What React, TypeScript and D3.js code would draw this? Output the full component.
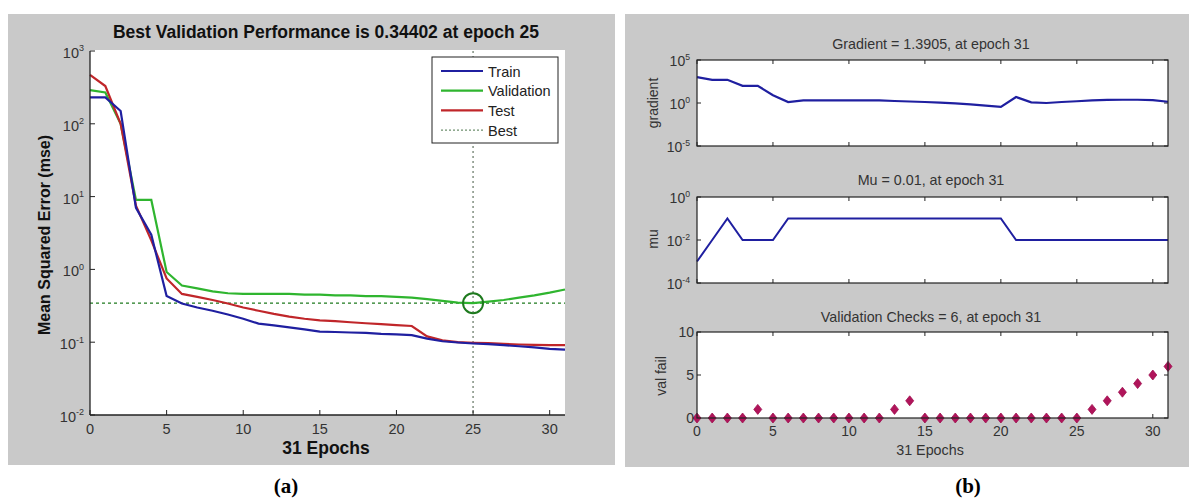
import React from "react";
import * as d3 from "d3";

const epochs = d3.range(0, 32);

const trainMSE = [230, 230, 150, 7, 3, 0.43, 0.34, 0.3, 0.27, 0.24, 0.21, 0.18, 0.17, 0.16, 0.15, 0.14, 0.138, 0.136, 0.134, 0.13, 0.128, 0.125, 0.112, 0.103, 0.099, 0.096, 0.094, 0.091, 0.088, 0.085, 0.081, 0.079];
const validationMSE = [290, 270, 100, 9, 9, 0.92, 0.6, 0.55, 0.5, 0.47, 0.46, 0.46, 0.46, 0.46, 0.45, 0.45, 0.44, 0.44, 0.43, 0.43, 0.42, 0.41, 0.39, 0.37, 0.35, 0.344, 0.36, 0.38, 0.41, 0.44, 0.48, 0.53];
const testMSE = [470, 330, 100, 7.5, 2.5, 0.75, 0.46, 0.42, 0.38, 0.34, 0.3, 0.27, 0.245, 0.225, 0.21, 0.2, 0.195, 0.188, 0.182, 0.177, 0.172, 0.167, 0.12, 0.106, 0.1, 0.098, 0.097, 0.095, 0.093, 0.092, 0.091, 0.091];
const bestEpoch = 25;
const bestPerf = 0.34402;

const gradient = [1000, 500, 500, 100, 100, 8, 1.3, 2, 2, 2, 2, 2, 2, 1.7, 1.5, 1.3, 1.1, 0.9, 0.7, 0.5, 0.35, 5, 1.2, 1.0, 1.3, 1.6, 2.0, 2.3, 2.4, 2.4, 2.2, 1.3905];
const mu = [0.001, 0.01, 0.1, 0.01, 0.01, 0.01, 0.1, 0.1, 0.1, 0.1, 0.1, 0.1, 0.1, 0.1, 0.1, 0.1, 0.1, 0.1, 0.1, 0.1, 0.1, 0.01, 0.01, 0.01, 0.01, 0.01, 0.01, 0.01, 0.01, 0.01, 0.01, 0.01];
const valFail = [0, 0, 0, 0, 1, 0, 0, 0, 0, 0, 0, 0, 0, 1, 2, 0, 0, 0, 0, 0, 0, 0, 0, 0, 0, 0, 1, 2, 3, 4, 5, 6];

const xTicks = [0, 5, 10, 15, 20, 25, 30];
const mseTickExp = [-2, -1, 0, 1, 2, 3];
const gradTickExp = [-5, 0, 5];
const muTickExp = [-4, -2, 0];
const valTicks = [0, 5, 10];

const legendItems = ["Train", "Validation", "Test", "Best"];

const BLUE = "#1f1fa0";
const GREEN = "#2fb52f";
const RED = "#c0262a";
const DKGREEN = "#1e7a1e";
const GRAY = "#c9c9c9";
const SANS = "'Liberation Sans', Arial, sans-serif";
const SERIF = "'Liberation Serif', 'Times New Roman', serif";

function Pow({ x, y, exp, size, anchor = "end", fill = "#333" }: any) {
  return (
    <text x={x} y={y} fontSize={size} fontFamily={SANS} textAnchor={anchor} fill={fill}>
      10
      <tspan fontSize={size * 0.62} dy={-size * 0.45}>{exp}</tspan>
    </text>
  );
}

export default function App() {
  const xL = d3.scaleLinear().domain([0, 31]).range([90, 565]);
  const yL = d3.scaleLog().domain([0.01, 1000]).range([415, 51]);
  const lineL = (vals: number[]) =>
    d3.line<number>().x((_, i) => xL(epochs[i])).y((v) => yL(v))(vals) || "";

  const xR = d3.scaleLinear().domain([0, 31]).range([697, 1168]);
  const yG = d3.scaleLog().domain([1e-5, 1e5]).range([146, 60]);
  const yM = d3.scaleLog().domain([1e-4, 1]).range([283, 197]);
  const yV = d3.scaleLinear().domain([0, 10]).range([418, 332]);

  const lineG = d3.line<number>().x((_, i) => xR(epochs[i])).y((v) => yG(v))(gradient) || "";
  const lineM = d3.line<number>().x((_, i) => xR(epochs[i])).y((v) => yM(v))(mu) || "";

  const [l0, l1] = xL.range();
  const [b0, t0] = yL.range();

  const subBox = (top: number, bottom: number, yTicks: number[], key: string) => (
    <g key={key}>
      <rect x={697} y={top} width={471} height={bottom - top} fill="#fff" />
      {xTicks.map((t) => (
        <g key={t}>
          <line x1={xR(t)} x2={xR(t)} y1={bottom} y2={bottom - 4} stroke="#222" />
          <line x1={xR(t)} x2={xR(t)} y1={top} y2={top + 4} stroke="#222" />
        </g>
      ))}
      {yTicks.map((y, i) => (
        <g key={i}>
          <line x1={697} x2={701} y1={y} y2={y} stroke="#222" />
          <line x1={1168} x2={1164} y1={y} y2={y} stroke="#222" />
        </g>
      ))}
    </g>
  );

  const diamond = (cx: number, cy: number) =>
    `M${cx},${cy - 5} L${cx + 4},${cy} L${cx},${cy + 5} L${cx - 4},${cy} Z`;

  return (
    <svg width={1189} height={500} style={{ position: "absolute", left: 0, top: 0, background: "#fff" }}>
      <rect x={8} y={14} width={607} height={451} fill={GRAY} />
      <rect x={625} y={14} width={564} height={453} fill={GRAY} />

      {/* ===== Left panel ===== */}
      <rect x={l0} y={t0 - 1} width={l1 - l0} height={b0 - t0 + 1} fill="#fff" />
      <text x={326} y={38} textAnchor="middle" fontFamily={SANS} fontWeight="bold" fontSize={17.5} fill="#111">
        Best Validation Performance is {bestPerf} at epoch {bestEpoch}
      </text>

      <line x1={xL(bestEpoch)} x2={xL(bestEpoch)} y1={t0} y2={b0} stroke="#6e7f6e" strokeWidth={1.3} strokeDasharray="2,3" />
      <line x1={l0} x2={l1} y1={yL(bestPerf)} y2={yL(bestPerf)} stroke={DKGREEN} strokeWidth={1.3} strokeDasharray="3,3" />

      <path d={lineL(validationMSE)} fill="none" stroke={GREEN} strokeWidth={2.2} />
      <path d={lineL(testMSE)} fill="none" stroke={RED} strokeWidth={2.2} />
      <path d={lineL(trainMSE)} fill="none" stroke={BLUE} strokeWidth={2.2} />
      <circle cx={xL(bestEpoch)} cy={yL(bestPerf)} r={10} fill="none" stroke={DKGREEN} strokeWidth={2} />

      <line x1={l0} x2={l1} y1={b0} y2={b0} stroke="#222" strokeWidth={1.3} />
      <line x1={l0} x2={l0} y1={t0} y2={b0} stroke="#222" strokeWidth={1.3} />
      {xTicks.map((t) => (
        <g key={t}>
          <line x1={xL(t)} x2={xL(t)} y1={b0} y2={b0 - 5} stroke="#222" />
          <text x={xL(t)} y={434} textAnchor="middle" fontFamily={SANS} fontSize={14.5} fill="#333">{t}</text>
        </g>
      ))}
      {mseTickExp.map((e) => (
        <g key={e}>
          <line x1={l0} x2={l0 + 5} y1={yL(Math.pow(10, e))} y2={yL(Math.pow(10, e))} stroke="#222" />
          <Pow x={84} y={yL(Math.pow(10, e)) + 7} exp={e} size={14.5} />
        </g>
      ))}
      <text x={326} y={454} textAnchor="middle" fontFamily={SANS} fontWeight="bold" fontSize={17.5} fill="#111">31 Epochs</text>
      <text transform={`translate(50,235) rotate(-90)`} textAnchor="middle" fontFamily={SANS} fontWeight="bold" fontSize={16} fill="#111">
        Mean Squared Error  (mse)
      </text>

      <rect x={432} y={57} width={126} height={86} fill="#fff" stroke="#222" strokeWidth={1} />
      {legendItems.map((name, i) => {
        const y = 71 + i * 19.7;
        const color = [BLUE, GREEN, RED, "#6e8f6e"][i];
        return (
          <g key={name}>
            <line x1={441} x2={483} y1={y} y2={y} stroke={color} strokeWidth={i === 3 ? 1.3 : 2.2} strokeDasharray={i === 3 ? "2,2" : undefined} />
            <text x={488} y={y + 5.5} fontFamily={SANS} fontSize={14.5} fill="#222">{name}</text>
          </g>
        );
      })}

      {/* ===== Right panel ===== */}
      {subBox(60, 146, gradTickExp.map((e) => yG(Math.pow(10, e))), "g")}
      {subBox(197, 283, muTickExp.map((e) => yM(Math.pow(10, e))), "m")}
      {subBox(332, 418, valTicks.map((v) => yV(v)), "v")}

      <path d={lineG} fill="none" stroke={BLUE} strokeWidth={2.2} />
      <path d={lineM} fill="none" stroke={BLUE} strokeWidth={2} />
      {valFail.map((v, i) => (
        <path key={i} d={diamond(xR(epochs[i]), yV(v))} fill="#b0145a" stroke="#a01050" strokeWidth={0.8} />
      ))}

      <rect x={697} y={60} width={471} height={86} fill="none" stroke="#222" strokeWidth={1.2} />
      <rect x={697} y={197} width={471} height={86} fill="none" stroke="#222" strokeWidth={1.2} />
      <rect x={697} y={332} width={471} height={86} fill="none" stroke="#222" strokeWidth={1.2} />

      <text x={931} y={49} textAnchor="middle" fontFamily={SANS} fontSize={14.3} fill="#333">Gradient = 1.3905, at epoch 31</text>
      <text x={931} y={185} textAnchor="middle" fontFamily={SANS} fontSize={14.3} fill="#333">Mu = 0.01, at epoch 31</text>
      <text x={931} y={322} textAnchor="middle" fontFamily={SANS} fontSize={14.3} fill="#333">Validation Checks = 6, at epoch 31</text>

      {gradTickExp.map((e) => (
        <Pow key={e} x={690} y={yG(Math.pow(10, e)) + 6} exp={e} size={14} />
      ))}
      {muTickExp.map((e) => (
        <Pow key={e} x={690} y={yM(Math.pow(10, e)) + 6} exp={e} size={14} />
      ))}
      {valTicks.map((v) => (
        <text key={v} x={694} y={yV(v) + 5} textAnchor="end" fontFamily={SANS} fontSize={14} fill="#333">{v}</text>
      ))}
      {xTicks.map((t) => (
        <text key={t} x={xR(t)} y={436} textAnchor="middle" fontFamily={SANS} fontSize={14} fill="#333">{t}</text>
      ))}
      <text x={930} y={455} textAnchor="middle" fontFamily={SANS} fontSize={14.3} fill="#333">31 Epochs</text>

      <text transform="translate(658,103) rotate(-90)" textAnchor="middle" fontFamily={SANS} fontSize={14} fill="#333">gradient</text>
      <text transform="translate(658,239) rotate(-90)" textAnchor="middle" fontFamily={SANS} fontSize={14} fill="#333">mu</text>
      <text transform="translate(666,376) rotate(-90)" textAnchor="middle" fontFamily={SANS} fontSize={14} fill="#333">val fail</text>

      <text x={286} y={493} textAnchor="middle" fontFamily={SERIF} fontWeight="bold" fontSize={21} fill="#000">(a)</text>
      <text x={968} y={493} textAnchor="middle" fontFamily={SERIF} fontWeight="bold" fontSize={21} fill="#000">(b)</text>
    </svg>
  );
}
